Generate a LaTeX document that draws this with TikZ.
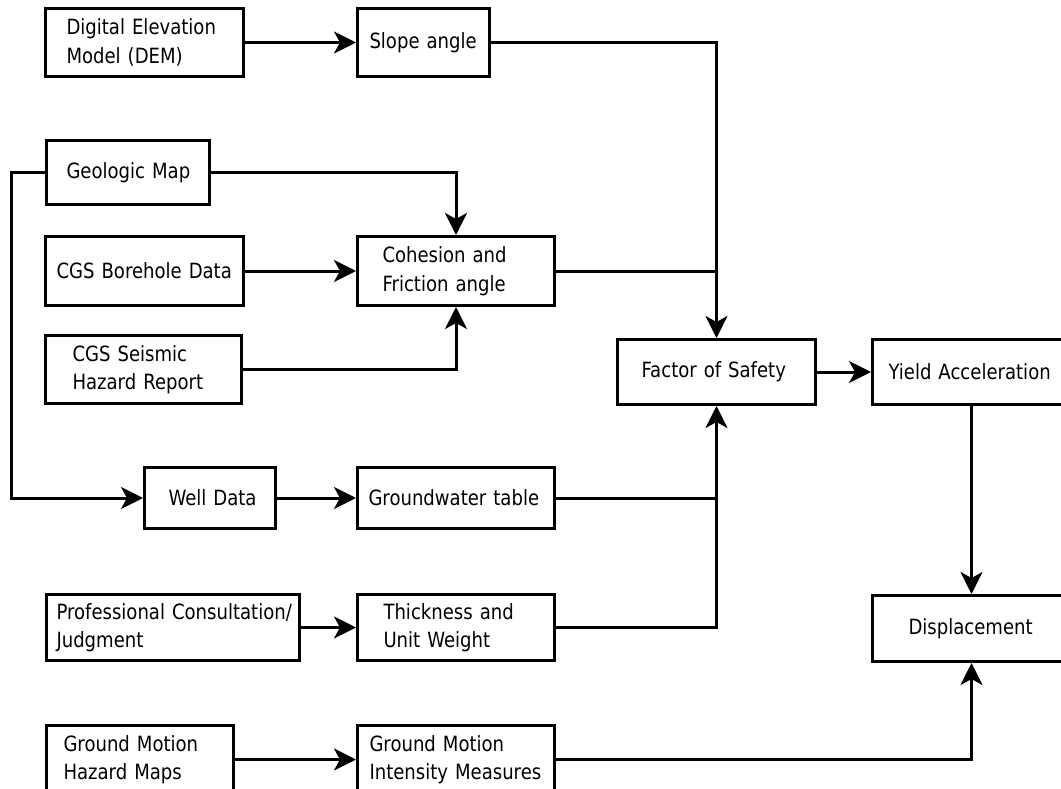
\documentclass[tikz,border=0pt]{standalone}
\usepackage{fontspec}
\setmainfont{DejaVu Sans}[FakeStretch=0.86]
\usetikzlibrary{arrows.meta}
\begin{document}
\begin{tikzpicture}[x=1pt,y=-1pt,
  box/.style={draw, line width=3pt, anchor=north west, inner ysep=0pt, align=left,
    font=\fontsize{21}{28.5}\selectfont},
  link/.style={line width=3pt},
  arr/.style={line width=3pt, -{Stealth[length=22pt,width=22pt,inset=6pt]}}]
\useasboundingbox (0,0) rectangle (1061,789);
\clip (0,0) rectangle (1061,789);
% boxes: (x0,y0), width = text width + 2*inner xsep
\node[box, minimum height=68pt, text width=156pt, inner xsep=21pt] (dem) at (44,7) {\mbox{Digital Elevation}\\\mbox{Model (DEM)}};
\node[box, minimum height=68pt, text width=108pt, inner xsep=12pt] (slope) at (356,7) {\mbox{Slope angle}};
\node[box, minimum height=64pt, text width=123pt, inner xsep=20pt] (geo) at (45,139) {\mbox{Geologic Map}};
\node[box, minimum height=69pt, text width=176pt, inner xsep=11pt] (bore) at (44,235) {\mbox{CGS Borehole Data}};
\node[box, minimum height=69pt, text width=147pt, inner xsep=25pt] (coh) at (356,235) {\mbox{Cohesion and}\\\mbox{Friction angle}};
\node[box, minimum height=68pt, text width=142pt, inner xsep=27pt] (seis) at (44,334) {\mbox{CGS Seismic}\\\mbox{Hazard Report}};
\node[box, minimum height=65pt, text width=150pt, inner xsep=24pt] (fos) at (616,338) {\mbox{Factor of Safety}};
\node[box, minimum height=65pt, text width=166pt, inner xsep=16pt] (yield) at (871,338) {\mbox{Yield Acceleration}};
\node[box, minimum height=61pt, text width=83pt, inner xsep=24pt] (well) at (143,466) {\mbox{Well Data}};
\node[box, minimum height=61pt, text width=175pt, inner xsep=11pt] (gw) at (356,466) {\mbox{Groundwater table}};
\node[box, minimum height=66pt, text width=233pt, inner xsep=10pt] (prof) at (45,593) {\mbox{Professional Consultation/}\\\mbox{Judgment}};
\node[box, minimum height=66pt, text width=145pt, inner xsep=26pt] (thick) at (356,593) {\mbox{Thickness and}\\\mbox{Unit Weight}};
\node[box, minimum height=66pt, text width=126pt, inner xsep=36pt] (disp) at (871,594) {\mbox{Displacement}};
\node[box, minimum height=68pt, text width=153pt, inner xsep=17pt] (gmh) at (45,724) {\mbox{Ground Motion}\\\mbox{Hazard Maps}};
\node[box, minimum height=68pt, text width=173pt, inner xsep=12pt] (gmim) at (356,724) {\mbox{Ground Motion}\\\mbox{Intensity Measures}};
% connectors
\coordinate (lft) at (11,0);
\draw[arr] (dem.east) -- (slope.east -| slope.west);
\draw[arr] (slope.east) -| (fos.north);
\draw[link] (coh.east) -- (coh.east -| fos.north);
\draw[arr] (geo.east) -| (coh.north);
\draw[arr] (geo.west) -- (geo.west -| lft) |- (well.west);
\draw[arr] (bore.east) -- (coh.west);
\draw[arr] (seis.east) -| (coh.south);
\draw[arr] (fos.east) -- (yield.west);
\draw[arr] (yield.south) -- (disp.north);
\draw[arr] (well.east) -- (gw.west);
\draw[link] (gw.east) -- (gw.east -| fos.south);
\draw[arr] (thick.east) -| (fos.south);
\draw[arr] (prof.east) -- (prof.east -| thick.west);
\draw[arr] (gmh.east) -- (gmh.east -| gmim.west);
\draw[arr] (gmim.east) -| (disp.south);
\end{tikzpicture}
\end{document}
